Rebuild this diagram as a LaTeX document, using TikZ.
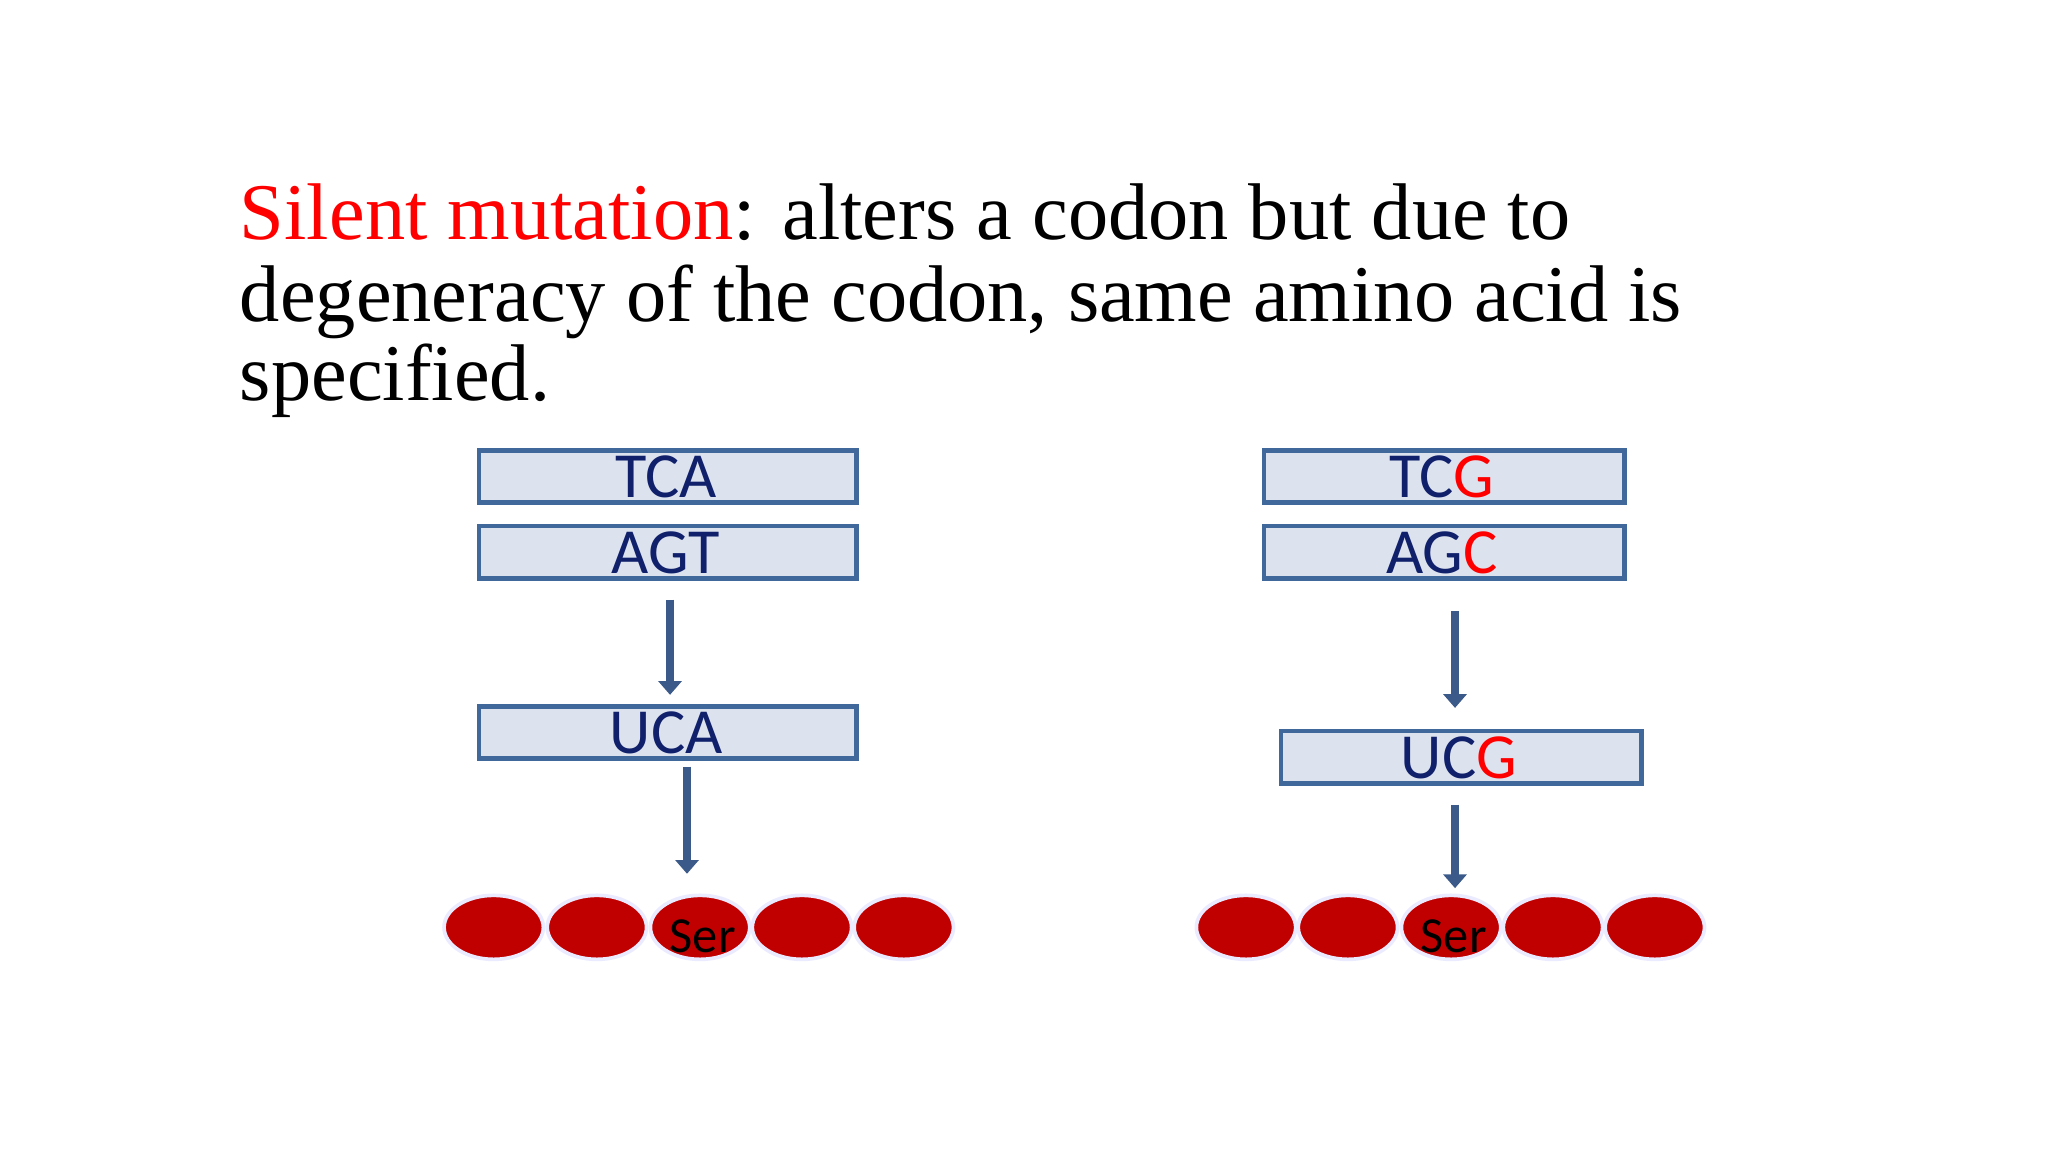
\documentclass[tikz,border=0pt]{standalone}
\usepackage{fontspec}
\setmainfont{Liberation Serif}
\newfontfamily\carlitofont{Carlito}
\usetikzlibrary{arrows.meta,shapes.geometric}
\definecolor{boxline}{HTML}{41689A}
\definecolor{boxfill}{HTML}{DCE3EF}
\definecolor{navy}{HTML}{10206B}
\definecolor{arrowc}{HTML}{3B5A8A}
\definecolor{aared}{HTML}{C00000}
\begin{document}
\begin{tikzpicture}[x=0.01cm,y=-0.01cm,
  codon/.style={draw=boxline,line width=1pt,fill=boxfill,inner sep=0pt,anchor=north west,minimum height=0.40cm},
  ctext/.style={font=\carlitofont\fontsize{14}{14}\selectfont,text=navy,inner sep=0pt,anchor=base},
  flow/.style={draw=arrowc,line width=1.6pt,-{Triangle[length=3pt,width=5pt]}},
  amino/.style={ellipse,draw=blue!8,line width=0.8pt,fill=aared,minimum width=0.76cm,minimum height=0.49cm,inner sep=0pt},
  sertext/.style={font=\carlitofont\fontsize{11}{11}\selectfont,anchor=base,inner sep=0pt},
  titleline/.style={font=\fontsize{17.5}{17.5}\selectfont,anchor=base west,inner sep=0pt}]
\useasboundingbox (0,0) rectangle (1568,882);
\node[titleline] (t1) at (183,183) {\textcolor{red}{Silent mutation}: alters a codon but due to};
\node[titleline] (t2) at (183,246) {degeneracy of the codon, same amino acid is};
\node[titleline] (t3) at (183,307) {specified.};
\node[codon,minimum width=2.89cm] (b1) at (365,343) {};
\node[codon,minimum width=2.89cm] (b2) at (365,401) {};
\node[codon,minimum width=2.89cm] (b3) at (365,539) {};
\node[ctext] (tb1) at (510,381) {TCA};
\node[ctext] (tb2) at (510,439) {AGT};
\node[ctext] (tb3) at (510,577) {UCA};
\node[codon,minimum width=2.76cm] (c1) at (966,343) {};
\node[codon,minimum width=2.76cm] (c2) at (966,401) {};
\node[codon,minimum width=2.76cm] (c3) at (979,558) {};
\node[ctext] (tc1) at (1104,381) {TC\textcolor{red}{G}};
\node[ctext] (tc2) at (1104,439) {AG\textcolor{red}{C}};
\node[ctext] (tc3) at (1117,596) {UC\textcolor{red}{G}};
\coordinate (a1s) at (513,459); \coordinate (a1e) at (513,532);
\coordinate (a2s) at (526,587); \coordinate (a2e) at (526,669);
\coordinate (a3s) at (1114,468); \coordinate (a3e) at (1114,542);
\coordinate (a4s) at (1114,616); \coordinate (a4e) at (1114,680);
\draw[flow] (a1s) -- (a1e);
\draw[flow] (a2s) -- (a2e);
\draw[flow] (a3s) -- (a3e);
\draw[flow] (a4s) -- (a4e);
\foreach \x [count=\i] in {378,457,536,614,692} {
  \node[amino] (l\i) at (\x,710) {};
}
\foreach \x [count=\i] in {954,1032,1111,1189,1267} {
  \node[amino] (r\i) at (\x,710) {};
}
\node[sertext] (s1) at (538,729) {Ser};
\node[sertext] (s2) at (1113,729) {Ser};
\end{tikzpicture}
\end{document}
